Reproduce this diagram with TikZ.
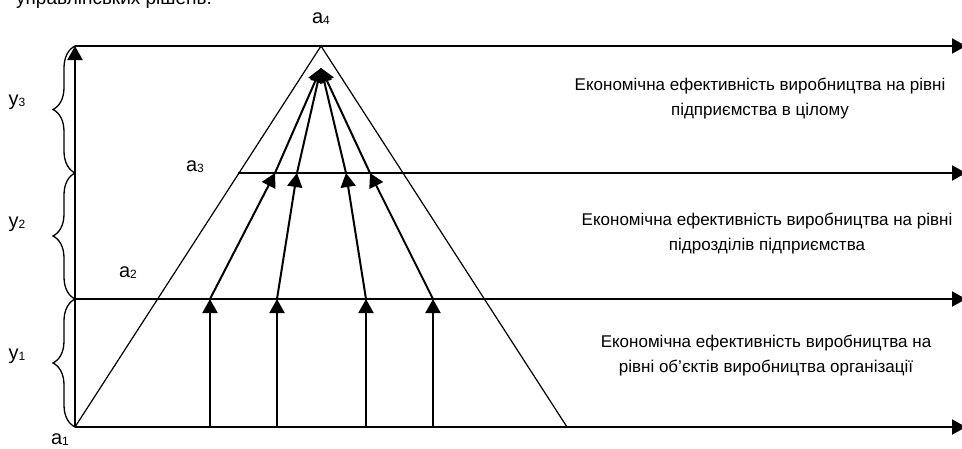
\documentclass[tikz,border=0pt]{standalone}
\usepackage{fontspec}
\setmainfont{Liberation Sans}
\usetikzlibrary{arrows.meta,decorations.pathreplacing}
\tikzset{
  thickline/.style={line width=2pt},
  thinline/.style={line width=1.2pt},
  arr/.style={line width=2pt,-{Triangle[length=14pt,width=15pt]}},
  bracestyle/.style={line width=1.3pt,decorate,decoration={brace,amplitude=22pt}},
  lbl/.style={font=\fontsize{20}{20}\selectfont,inner sep=0pt},
  txt/.style={font=\fontsize{17}{25}\selectfont,align=center,inner sep=0pt}
}
\newcommand{\sub}[1]{{\fontsize{12}{12}\selectfont\raisebox{-1pt}{#1}}}
\begin{document}
\begin{tikzpicture}[x=1pt,y=-1pt]
\useasboundingbox (0,0) rectangle (962,448);
% key points
\coordinate (A1) at (75,427);
\coordinate (A4) at (321,46);
\coordinate (BR) at (567,427);
\coordinate (TL) at (75,46);
\coordinate (ML) at (75,299);
\coordinate (UL) at (75,173);
\coordinate (A3L) at (238,173);
\coordinate (E1) at (966,46);
\coordinate (E2) at (966,173);
\coordinate (E3) at (966,299);
\coordinate (E4) at (966,427);
\coordinate (P) at (321,68);
% bottom arrows
\foreach \n/\xb/\xt in {1/210/275, 2/277/297, 3/366/346, 4/433/370}{
  \coordinate (b\n) at (\xb,427);
  \coordinate (m\n) at (\xb,299);
  \coordinate (t\n) at (\xt,173);
}
% horizontal lines
\draw[arr] (TL) -- (E1);
\draw[arr] (A3L) -- (E2);
\draw[arr] (ML) -- (E3);
\draw[arr] (A1) -- (E4);
% left vertical axis
\draw[arr] (A1) -- (TL);
% triangle
\draw[thinline] (A1) -- (A4) -- (BR);
% inner arrows
\foreach \n in {1,2,3,4}{
  \draw[arr] (b\n) -- (m\n);
  \draw[arr] (m\n) -- (t\n);
  \draw[arr] (t\n) -- (P);
}
% braces
\draw[bracestyle] (75,173) -- (75,46);
\draw[bracestyle] (75,299) -- (75,173);
\draw[bracestyle] (75,427) -- (75,299);
% labels
\node[lbl] (y3) at (17,102) {y\sub{3}};
\node[lbl] (y2) at (17,224) {y\sub{2}};
\node[lbl] (y1) at (17,356) {y\sub{1}};
\node[lbl] (a4) at (321,19) {a\sub{4}};
\node[lbl] (a3) at (195,167) {a\sub{3}};
\node[lbl] (a2) at (128,273) {a\sub{2}};
\node[lbl] (a1) at (60,440) {a\sub{1}};
% texts
\node[txt] (t1) at (760,99) {Економічна ефективність виробництва на рівні\\підприємства в цілому};
\node[txt] (t2) at (767,234) {Економічна ефективність виробництва на рівні\\підрозділів підприємства};
\node[txt] (t3) at (766,356) {Економічна ефективність виробництва на\\рівні об’єктів виробництва організації};
\node[font=\fontsize{19}{19}\selectfont,anchor=base west,inner sep=0pt] (top) at (16,4) {управлінських рішень.};
\end{tikzpicture}
\end{document}
